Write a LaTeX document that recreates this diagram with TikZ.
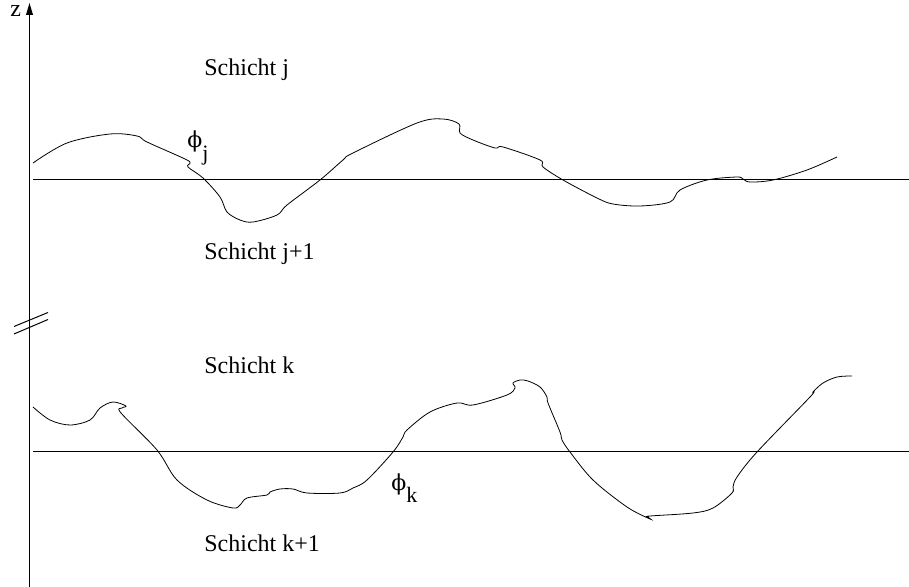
\documentclass[tikz,border=0pt]{standalone}
\usepackage{fontspec}
\setmainfont{Liberation Serif}
\newfontfamily\grkfont{DejaVu Serif}
\usetikzlibrary{arrows.meta}

\tikzset{
  lbl/.style={anchor=base west,inner sep=0pt,font=\fontsize{12}{14}\selectfont},
  grenze/.style={line width=0.4pt,smooth,tension=0.55},
}

\begin{document}
\begin{tikzpicture}[x=0.5pt,y=-0.5pt]
			\useasboundingbox (0,0) rectangle (909,587);
			% z-Achse
			\coordinate (ax_b) at (29.5,587);
			\coordinate (ax_t) at (29.5,3);
			\draw[line width=0.6pt,-{Triangle[length=6pt,width=3.4pt]}] (ax_b) -- (ax_t);
			\node[lbl] (z) at (10,17) {z};
			% Unterbrechung
			\coordinate (br1a) at (14,326.5);
			\coordinate (br1b) at (48,312.5);
			\coordinate (br2a) at (14,334);
			\coordinate (br2b) at (48,319.5);
			\draw[line width=0.5pt] (br1a) -- (br1b) (br2a) -- (br2b);
			% mittlere Niveaus
			\coordinate (hj_a) at (33,180);
			\coordinate (hj_b) at (909,180);
			\coordinate (hk_a) at (33,451);
			\coordinate (hk_b) at (909,451);
			\draw[line width=0.5pt] (hj_a) -- (hj_b) (hk_a) -- (hk_b);
			% Schichten
			\node[lbl] (sj) at (204,76) {Schicht j};
			\node[lbl] (sj1) at (204,260) {Schicht j+1};
			\node[lbl] (sk) at (204,373) {Schicht k};
			\node[lbl] (sk1) at (204,551) {Schicht k+1};
			\node[lbl] (phij) at (187,148) {{\grkfont\fontsize{11}{12}\selectfont ϕ}\raisebox{-1.1ex}{\fontsize{11}{12}\selectfont j}};
			\node[lbl] (phik) at (391,490) {{\grkfont\fontsize{11}{12}\selectfont ϕ}\raisebox{-1.1ex}{\fontsize{11}{12}\selectfont k}};
			% Grenzflaeche j
			\draw[grenze] plot coordinates {(33,163) (67,143) (110,134) (137,136) (147,142)
				(185,159) (190,163) (188,167) (203,178) (220,197) (227,212) (240,220) (253,222)
				(277,215) (287,205) (320,180) (343,160) (353,153) (417,123) (443,119) (459,124)
				(460,133) (473,140) (495,148) (503,147) (540,160) (543,167) (563,180) (597,198)
				(613,204) (640,206) (670,202) (680,190) (707,180) (737,177) (743,179) (750,182)
				(773,180) (807,170) (837,157)};
			% Grenzflaeche k
			\draw[grenze] plot coordinates {(33,407) (50,420) (70,425) (90,420) (100,408)
				(113,402) (126,406) (122,408) (121,413) (157,450) (177,480) (207,500) (233,508)
				(240,505) (247,498) (267,495) (270,492) (280,489) (293,489) (307,493) (340,493)
				(353,488) (367,480) (393,452) (403,437) (407,430) (430,412) (457,403) (473,405)
				(507,395) (515,388) (513,383) (520,380) (528,381) (540,387) (547,397) (548,403)
				(560,432) (562,440) (570,452) (593,480) (627,507) (650,519) (648,517) (650,516)
				(693,513) (713,508) (732,493) (733,487) (737,477) (757,452) (810,397) (813,392)
				(823,383) (837,377) (852,376)};
		\end{tikzpicture}
\end{document}
